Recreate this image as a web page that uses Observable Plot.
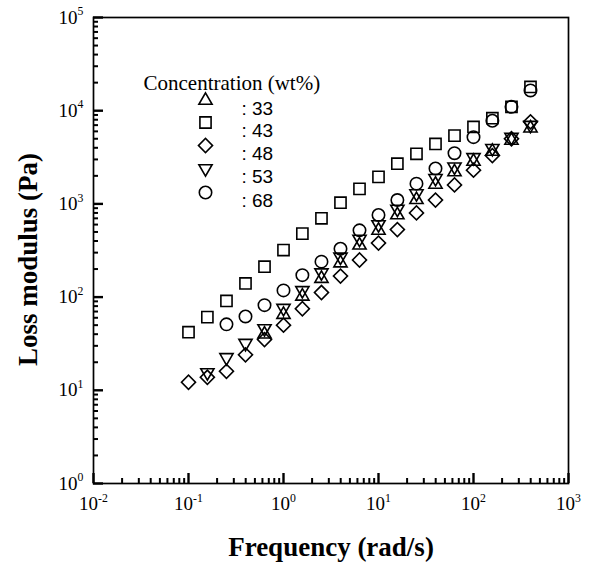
<!DOCTYPE html>
<html><head><meta charset="utf-8">
<script src="https://cdn.jsdelivr.net/npm/d3@7"></script>
<script src="https://cdn.jsdelivr.net/npm/@observablehq/plot@0.6"></script>
<style>
body{margin:0;background:#fff;}
#chart{width:589px;height:564px;}
</style></head><body><div id="chart"></div>
<script>
// Frequency (rad/s)
const freq = [0.1, 0.158, 0.251, 0.398, 0.631, 1, 1.58, 2.51, 3.98, 6.31, 10, 15.8, 25.1, 39.8, 63.1, 100, 158, 251, 398];
// Loss modulus (Pa) by concentration (wt%)
const g33 = [null, null, null, null, 40, 65, 102, 158, 232, 360, 520, 760, 1110, 1620, 2200, 2850, 3650, 4800, 6500];
const g43 = [42, 61, 91, 140, 212, 320, 480, 700, 1030, 1450, 1950, 2700, 3450, 4400, 5400, 6700, 8300, 11000, 18000];
const g48 = [12.2, 13.8, 16, 24, 35, 50, 75, 112, 168, 250, 380, 530, 800, 1100, 1600, 2300, 3300, 5000, 7600];
const g53 = [null, 15.5, 22.5, 32, 46, 76, 118, 183, 270, 420, 600, 880, 1290, 1880, 2500, 3150, 3950, 5200, 7000];
const g68 = [null, null, 51, 62, 82, 118, 172, 240, 330, 520, 760, 1100, 1650, 2400, 3500, 5200, 7800, 11000, 16500];
const seriesNames = ["33", "43", "48", "53", "68"];
const xTickExp = [-2, -1, 0, 1, 2, 3];
const yTickExp = [0, 1, 2, 3, 4, 5];
const legendTitle = "Concentration (wt%)";
const xTitle = "Frequency (rad/s)";
const yTitle = "Loss modulus (Pa)";

const W = 589, H = 564, mL = 93, mR = 21, mT = 17, mB = 81;

const valuesBySeries = [g33, g43, g48, g53, g68];
const styles = [
  {symbol: "triangle", rotate: 0, r: 4.9},
  {symbol: "square", rotate: 0, r: 6.3},
  {symbol: "square", rotate: 45, r: 5.6},
  {symbol: "triangle", rotate: 180, r: 4.9},
  {symbol: "circle", rotate: 0, r: 6.2}
];
const series = seriesNames.map((name, i) => ({
  name, ...styles[i],
  data: freq.map((f, j) => ({f, v: valuesBySeries[i][j]})).filter(d => d.v != null)
}));

const xMajor = xTickExp.map(e => Math.pow(10, e));
const yMajor = yTickExp.map(e => Math.pow(10, e));
const minors = exps => exps.slice(0, -1).flatMap(e => d3.range(2, 10).map(m => m * Math.pow(10, e)));
const xMinor = minors(xTickExp);
const yMinor = minors(yTickExp);
const expFmt = d => "10|" + Math.round(Math.log10(d));
const noLabel = () => "";

const legendRowDy = [83, 105, 128, 151, 175];
const minorLen = 5, majorLen = 10;

const marks = [
  Plot.frame({stroke: "black", strokeWidth: 1.7}),
  // inward tick marks: axis ticks shifted inside the frame
  Plot.axisX({ticks: xMinor, tickSize: minorLen, dy: -minorLen, tickFormat: noLabel, stroke: "black", strokeWidth: 2, label: null}),
  Plot.axisX({ticks: xMajor, tickSize: majorLen, dy: -majorLen, tickFormat: noLabel, stroke: "black", strokeWidth: 2.4, label: null}),
  Plot.axisY({ticks: yMinor, tickSize: minorLen, dx: minorLen, tickFormat: noLabel, stroke: "black", strokeWidth: 2, label: null}),
  Plot.axisY({ticks: yMajor, tickSize: majorLen, dx: majorLen, tickFormat: noLabel, stroke: "black", strokeWidth: 2.4, label: null}),
  Plot.axisX({ticks: xMajor, tickSize: 0, tickPadding: 13, tickFormat: expFmt, fontSize: 19, label: null}),
  Plot.axisY({ticks: yMajor, tickSize: 0, tickPadding: 10, tickFormat: expFmt, fontSize: 19, label: null}),
  Plot.text([xTitle], {frameAnchor: "bottom", lineAnchor: "middle", dy: 64, fontSize: 27, fontWeight: "bold", text: d => d}),
  Plot.text([yTitle], {frameAnchor: "left", textAnchor: "middle", lineAnchor: "middle", dx: -65, dy: 9, rotate: -90, fontSize: 27, fontWeight: "bold", text: d => d}),
  Plot.text([legendTitle], {frameAnchor: "top-left", textAnchor: "start", dx: 50, dy: 58, fontSize: 21, text: d => d}),
  ...series.map(s => Plot.dot(s.data, {x: "f", y: "v", symbol: s.symbol, rotate: s.rotate, r: s.r, stroke: "black", strokeWidth: 1.6, fill: "none"})),
  ...series.map((s, i) => Plot.dot([s.name], {frameAnchor: "top-left", dx: 112, dy: legendRowDy[i], symbol: s.symbol, rotate: s.rotate, r: s.r, stroke: "black", strokeWidth: 1.6, fill: "none"})),
  ...series.map((s, i) => Plot.text([": " + s.name], {frameAnchor: "top-left", textAnchor: "start", dx: 148, dy: legendRowDy[i] + 1, fontSize: 19, fontFamily: "Liberation Sans, Arial, sans-serif", text: d => d}))
];

const chart = Plot.plot({
  width: W, height: H,
  marginLeft: mL, marginRight: mR, marginTop: mT, marginBottom: mB,
  x: {type: "log", domain: [0.01, 1000], axis: null},
  y: {type: "log", domain: [1, 100000], axis: null},
  style: {fontFamily: "Liberation Serif, 'Times New Roman', serif"},
  marks
});

// render exponents as real superscripts
d3.select(chart).selectAll("text").each(function() {
  const t = this.textContent;
  if (!t.includes("|")) return;
  const [base, ex] = t.split("|");
  const sel = d3.select(this);
  sel.text(null);
  sel.append("tspan").text(base);
  sel.append("tspan").attr("font-size", "0.62em").attr("dy", "-0.72em").text(ex);
});

document.getElementById("chart").appendChild(chart);
</script>
</body></html>
